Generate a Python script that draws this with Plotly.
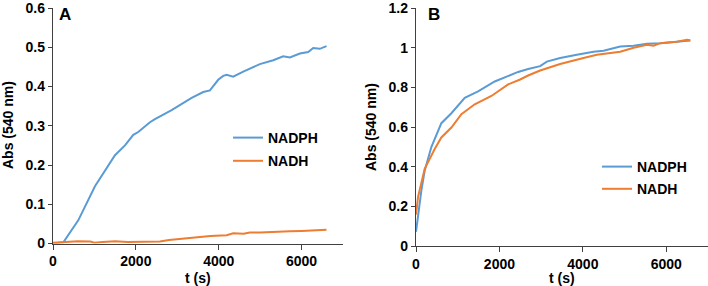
import plotly.graph_objects as go

# ---- Panel A data (t in s, absorbance at 540 nm) ----
a_nadph_t = [0, 250, 610, 1013, 1496, 1737, 1938, 2058, 2340, 2461, 2863, 3105, 3346, 3627,
             3788, 3988, 4109, 4190, 4350, 4592, 4994, 5316, 5557, 5718, 5959, 6160, 6281,
             6441, 6602]
a_nadph_v = [0, 0.003, 0.059, 0.146, 0.225, 0.25, 0.277, 0.284, 0.309, 0.317, 0.34, 0.355,
             0.371, 0.386, 0.39, 0.417, 0.427, 0.43, 0.425, 0.438, 0.457, 0.467, 0.477,
             0.474, 0.484, 0.488, 0.498, 0.496, 0.503]

a_nadh_t = [0, 300, 600, 900, 1000, 1200, 1500, 1800, 2100, 2400, 2580, 2800, 3100, 3300,
            3546, 3800, 4190, 4350, 4600, 4753, 5000, 5300, 5718, 6000, 6300, 6602]
a_nadh_v = [0.002, 0.004, 0.006, 0.005, 0.002, 0.004, 0.006, 0.004, 0.005, 0.006, 0.005,
            0.009, 0.012, 0.013, 0.016, 0.019, 0.021, 0.026, 0.025, 0.028, 0.028, 0.03,
            0.031, 0.032, 0.033, 0.035]

# ---- Panel B data ----
b_nadph_t = [0, 64, 128, 208, 368, 608, 848, 1169, 1488, 1888, 2448, 2688, 2976, 3136, 3456,
             3856, 4256, 4496, 4896, 5216, 5536, 5856, 6576]
b_nadph_v = [0.073, 0.18, 0.28, 0.38, 0.5, 0.62, 0.67, 0.748, 0.78, 0.83, 0.878, 0.893, 0.907,
             0.93, 0.948, 0.965, 0.98, 0.985, 1.006, 1.01, 1.02, 1.023, 1.036]

b_nadh_t = [0, 48, 208, 448, 608, 848, 1088, 1408, 1808, 2208, 2496, 2688, 2976, 3456, 4015,
            4336, 4896, 5216, 5536, 5696, 5856, 6256, 6496, 6576]
b_nadh_v = [0.16, 0.248, 0.39, 0.49, 0.548, 0.598, 0.665, 0.715, 0.757, 0.815, 0.84, 0.86,
            0.885, 0.918, 0.948, 0.965, 0.98, 1.0, 1.015, 1.01, 1.023, 1.03, 1.04, 1.036]

x_ticks = [0, 2000, 4000, 6000]
a_y_ticks = [0, 0.1, 0.2, 0.3, 0.4, 0.5, 0.6]
b_y_ticks = [0, 0.2, 0.4, 0.6, 0.8, 1, 1.2]

BLUE = "#5B9BD5"
ORANGE = "#ED7D31"
FONT = "Liberation Sans, Arial, sans-serif"
AXC = "#404040"

fig = go.Figure()
fig.add_trace(go.Scatter(x=a_nadph_t, y=a_nadph_v, mode="lines", name="NADPH",
                         line=dict(color=BLUE, width=2), xaxis="x", yaxis="y",
                         legend="legend", legendgroup="a1"))
fig.add_trace(go.Scatter(x=a_nadh_t, y=a_nadh_v, mode="lines", name="NADH",
                         line=dict(color=ORANGE, width=2), xaxis="x", yaxis="y",
                         legend="legend", legendgroup="a2"))
fig.add_trace(go.Scatter(x=b_nadph_t, y=b_nadph_v, mode="lines", name="NADPH",
                         line=dict(color=BLUE, width=2), xaxis="x2", yaxis="y2",
                         legend="legend2", legendgroup="b1"))
fig.add_trace(go.Scatter(x=b_nadh_t, y=b_nadh_v, mode="lines", name="NADH",
                         line=dict(color=ORANGE, width=2), xaxis="x2", yaxis="y2",
                         legend="legend2", legendgroup="b2"))

W, H = 708, 286
tickfont = dict(family=FONT, size=14, color="#000000", weight="bold")
bold14 = dict(family=FONT, size=14, color="#000000", weight="bold")

common_x = dict(range=[0, 7000], tickvals=x_ticks, showgrid=False, zeroline=False,
                showline=True, linecolor=AXC, linewidth=1.3, ticks="outside", ticklen=5,
                tickcolor=AXC, tickwidth=1.3, tickfont=tickfont, automargin=False,
                ticklabeloverflow="allow")
common_y = dict(showgrid=False, zeroline=False, showline=True, linecolor=AXC, linewidth=1.3,
                ticks="outside", ticklen=4, tickcolor=AXC, tickwidth=1.3, tickfont=tickfont,
                automargin=False, ticklabeloverflow="allow")


def note(text, x, y, size=14, angle=0):
    return dict(text=text, x=x / W, y=(H - y) / H, xref="paper", yref="paper",
                xanchor="center", yanchor="middle", showarrow=False, textangle=angle,
                font=dict(family=FONT, size=size, color="#000000", weight="bold"))


fig.update_layout(
    width=W, height=H,
    margin=dict(l=0, r=0, t=0, b=0),
    paper_bgcolor="white", plot_bgcolor="white",
    font=dict(family=FONT, size=14, color="#000000"),
    xaxis=dict(domain=[53 / W, 343 / W], anchor="y", **common_x),
    yaxis=dict(domain=[(H - 243.5) / H, (H - 8) / H], anchor="x", range=[0, 0.6],
               tickvals=a_y_ticks, **common_y),
    xaxis2=dict(domain=[416 / W, 1.0], anchor="y2", **common_x),
    yaxis2=dict(domain=[(H - 246.3) / H, (H - 8) / H], anchor="x2", range=[0, 1.2],
                tickvals=b_y_ticks, **common_y),
    legend=dict(x=228 / W, y=(H - 122) / H, xanchor="left", yanchor="top",
                font=bold14, bgcolor="rgba(0,0,0,0)",
                tracegroupgap=2, traceorder="grouped"),
    legend2=dict(x=597 / W, y=(H - 151) / H, xanchor="left", yanchor="top",
                 font=bold14, bgcolor="rgba(0,0,0,0)",
                 tracegroupgap=1, traceorder="grouped"),
    annotations=[
        note("A", 65, 14, size=17),
        note("B", 434, 14, size=17),
        note("t (s)", 198, 278),
        note("t (s)", 562, 278),
        note("Abs (540 nm)", 8, 125, angle=-90),
        note("Abs (540 nm)", 371, 127, angle=-90),
    ],
)

fig.write_html("out.html", config={"displayModeBar": False},
               post_script="document.body.style.margin='0';")
